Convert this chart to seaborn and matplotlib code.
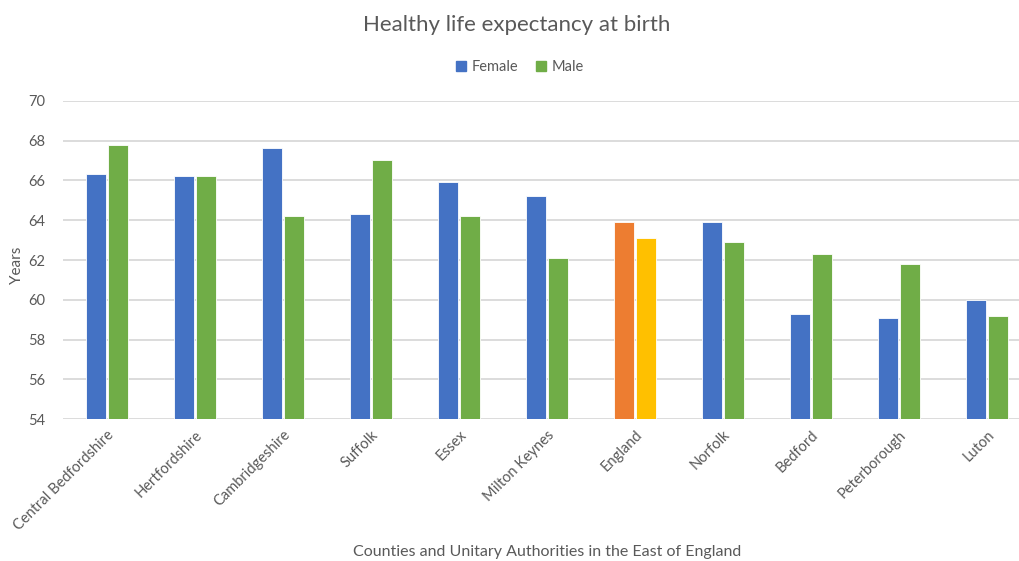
import matplotlib
matplotlib.use("Agg")
import matplotlib.pyplot as plt
import seaborn as sns
import pandas as pd
from matplotlib.patches import Patch

areas = ["Central Bedfordshire", "Hertfordshire", "Cambridgeshire", "Suffolk", "Essex",
         "Milton Keynes", "England", "Norfolk", "Bedford", "Peterborough", "Luton"]
female = [66.3, 66.2, 67.6, 64.3, 65.9, 65.2, 63.9, 63.9, 59.3, 59.1, 60.0]
male = [67.8, 66.2, 64.2, 67.0, 64.2, 62.1, 63.1, 62.9, 62.3, 61.8, 59.2]
series = ["Female", "Male"]
highlight = "England"

blue, green = "#4472C4", "#70AD47"
orange, gold = "#ED7D31", "#FFC000"
text_col = "#595959"

df = pd.DataFrame({
    "Area": areas * 2,
    "Sex": [series[0]] * len(areas) + [series[1]] * len(areas),
    "Years": female + male,
})

sns.set_theme(style="white")
plt.rcParams["font.family"] = ["Lato", "DejaVu Sans"]

fig = plt.figure(figsize=(10.19, 5.61), dpi=100)
W, H = 1019, 561
left, right = 63 / W, 1031 / W
bottom, top = 1 - 419.3 / H, 1 - 100.7 / H
ax = fig.add_axes([left, bottom, right - left, top - bottom])

sns.barplot(data=df, x="Area", y="Years", hue="Sex", order=areas, hue_order=series,
            palette=[blue, green], width=0.5, gap=0.1, ax=ax, legend=False,
            edgecolor="white", linewidth=0.6, saturation=1)

# recolour the England bars
for p in ax.patches:
    cx = p.get_x() + p.get_width() / 2
    idx = int(round(cx))
    if areas[idx] == highlight:
        p.set_facecolor(orange if cx < idx else gold)

ax.set_ylim(54, 70)
ax.set_xlim(-0.5, len(areas) - 0.5)
ax.set_yticks(range(54, 71, 2))
ax.yaxis.grid(True, color="#D9D9D9", linewidth=1.3)
ax.set_axisbelow(True)
for s in ["top", "right", "left", "bottom"]:
    ax.spines[s].set_visible(False)
ax.tick_params(axis="both", length=0, colors=text_col)
ax.tick_params(axis="y", labelsize=10.5, pad=13)
ax.set_xticks(range(len(areas)))
ax.set_xticklabels(areas, rotation=45, ha="right", rotation_mode="anchor",
                   fontsize=10.5, color=text_col)
ax.tick_params(axis="x", pad=6)

ax.set_ylabel("")
ax.set_xlabel("")
fig.text(17 / W, 1 - 265 / H, "Years", rotation=90, ha="center", va="center",
         fontsize=11, color=text_col)
fig.text(547 / W, 1 - 552 / H, "Counties and Unitary Authorities in the East of England",
         ha="center", va="center", fontsize=11.5, color=text_col)

fig.text(517 / W, 1 - 25 / H, "Healthy life expectancy at birth",
         ha="center", va="center", fontsize=16, color=text_col)

handles = [Patch(facecolor=blue, edgecolor=blue, label=series[0]),
           Patch(facecolor=green, edgecolor=green, label=series[1])]
fig.legend(handles=handles, loc="center", bbox_to_anchor=(520 / W, 1 - 67 / H),
           ncol=2, frameon=False, fontsize=10.5, handlelength=0.7, handleheight=0.7,
           handletextpad=0.4, columnspacing=1.2, labelcolor=text_col)

fig.savefig("out.png", dpi=100, facecolor="white")
